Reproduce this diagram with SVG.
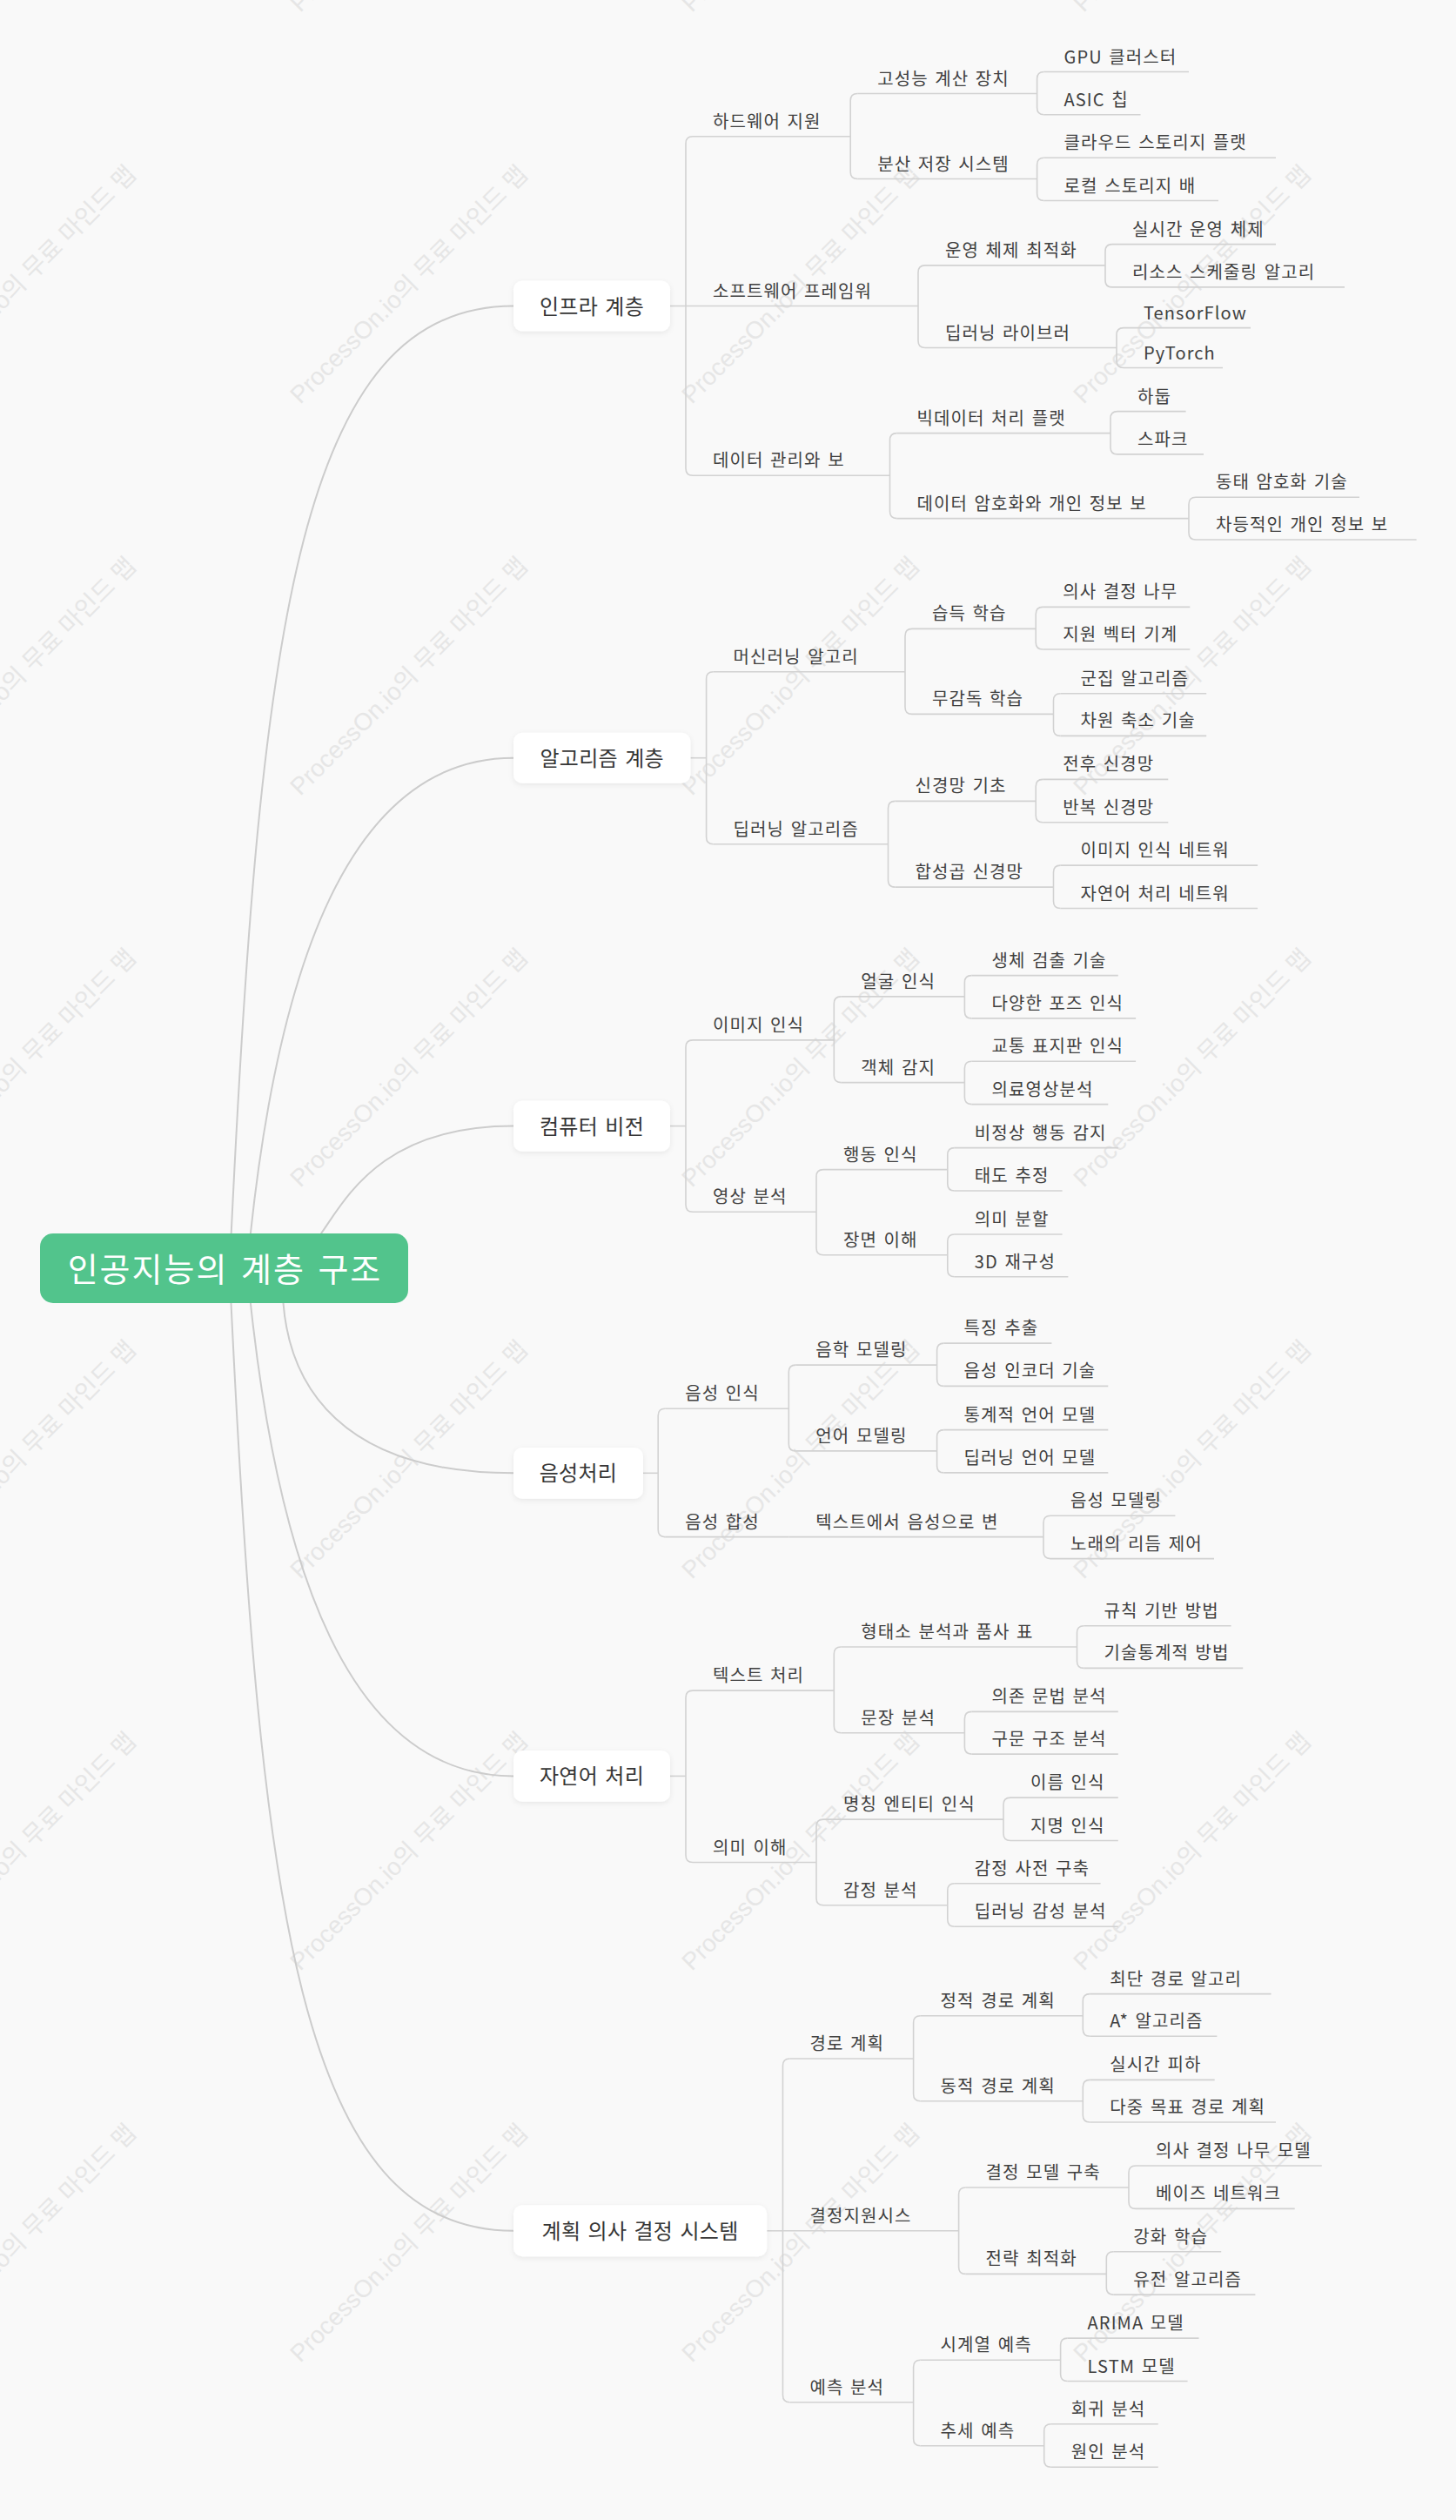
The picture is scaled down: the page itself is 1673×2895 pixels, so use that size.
<svg xmlns="http://www.w3.org/2000/svg" xmlns:xlink="http://www.w3.org/1999/xlink" width="1673" height="2895" viewBox="0 0 1673 2895">
<style>
.t{font-family:'Noto Sans CJK KR','Noto Sans',sans-serif;font-size:20px;fill:#404040;word-spacing:2px;letter-spacing:1.1px}
.t1{font-family:'Noto Sans CJK KR','Noto Sans',sans-serif;font-size:24px;fill:#363636;text-anchor:middle;word-spacing:2.5px;letter-spacing:0.3px}
.t0{font-family:'Noto Sans CJK KR','Noto Sans',sans-serif;font-size:38px;fill:#ffffff;text-anchor:middle;word-spacing:4px;letter-spacing:2px}
.ul,.cn{stroke:#d2d2d2;stroke-width:1.6;fill:none}
.cv{stroke:#cccccc;stroke-width:2;fill:none}
.box{fill:#ffffff;filter:url(#sh)}
.wm{font-family:'Liberation Sans','Noto Sans CJK KR',sans-serif;font-size:28px;fill:#e6e6e6}
</style>
<defs>
<filter id="sh" x="-20%" y="-30%" width="140%" height="170%">
<feDropShadow dx="0" dy="2" stdDeviation="3" flood-color="#000000" flood-opacity="0.07"/>
</filter>
<text id="wm" class="wm" transform="rotate(-45)">ProcessOn.io의 무료 마인드 맵</text>
</defs>
<rect x="0" y="0" width="1673" height="2895" fill="#f9f9f9"/>
<g id="watermarks">
<use xlink:href="#wm" transform="translate(-105,15)"/><use xlink:href="#wm" transform="translate(345,15)"/><use xlink:href="#wm" transform="translate(795,15)"/><use xlink:href="#wm" transform="translate(1245,15)"/>
<use xlink:href="#wm" transform="translate(-105,465)"/><use xlink:href="#wm" transform="translate(345,465)"/><use xlink:href="#wm" transform="translate(795,465)"/><use xlink:href="#wm" transform="translate(1245,465)"/>
<use xlink:href="#wm" transform="translate(-105,915)"/><use xlink:href="#wm" transform="translate(345,915)"/><use xlink:href="#wm" transform="translate(795,915)"/><use xlink:href="#wm" transform="translate(1245,915)"/>
<use xlink:href="#wm" transform="translate(-105,1365)"/><use xlink:href="#wm" transform="translate(345,1365)"/><use xlink:href="#wm" transform="translate(795,1365)"/><use xlink:href="#wm" transform="translate(1245,1365)"/>
<use xlink:href="#wm" transform="translate(-105,1815)"/><use xlink:href="#wm" transform="translate(345,1815)"/><use xlink:href="#wm" transform="translate(795,1815)"/><use xlink:href="#wm" transform="translate(1245,1815)"/>
<use xlink:href="#wm" transform="translate(-105,2265)"/><use xlink:href="#wm" transform="translate(345,2265)"/><use xlink:href="#wm" transform="translate(795,2265)"/><use xlink:href="#wm" transform="translate(1245,2265)"/>
<use xlink:href="#wm" transform="translate(-105,2715)"/><use xlink:href="#wm" transform="translate(345,2715)"/><use xlink:href="#wm" transform="translate(795,2715)"/><use xlink:href="#wm" transform="translate(1245,2715)"/>
</g>
<g id="connectors">
<path class="cv" d="M265.5 1425 L265.7 1417 C299.3 717 345 351.5 590 351.5"/>
<path class="cv" d="M287.5 1425 L287.9 1417 C320 1117 399 870.7 590 870.7"/>
<path class="cv" d="M363 1425 L369 1417 C398 1376 439 1293.6 590 1293.6"/>
<path class="cv" d="M325 1489 L325.5 1497 C333 1590 390 1692.3 590 1692.3"/>
<path class="cv" d="M287.5 1489 L287.9 1497 C320 1796 399 2040.4 590 2040.4"/>
<path class="cv" d="M265.3 1489 L265.5 1497 C299.3 2196 345 2562.8 590 2562.8"/>
<path class="cn" d="M770 351.5 H788"/>
<path class="cn" d="M796 156.8 Q788 156.8 788 164.8 V538.2 Q788 546.2 796 546.2"/>
<path class="cn" d="M985.2 107.5 Q977.2 107.5 977.2 115.5 V197.5 Q977.2 205.5 985.2 205.5"/>
<path class="cn" d="M1199.6 82.5 Q1191.6 82.5 1191.6 90.5 V123.8 Q1191.6 131.8 1199.6 131.8"/>
<path class="cn" d="M1199.6 181.2 Q1191.6 181.2 1191.6 189.2 V222.5 Q1191.6 230.5 1199.6 230.5"/>
<path class="cn" d="M1063 304.9 Q1055 304.9 1055 312.9 V391.5 Q1055 399.5 1063 399.5"/>
<path class="cn" d="M1278 280.6 Q1270 280.6 1270 288.6 V321.9 Q1270 329.9 1278 329.9"/>
<path class="cn" d="M1291 376.6 Q1283 376.6 1283 384.6 V414.5 Q1283 422.5 1291 422.5"/>
<path class="cn" d="M1030.5 497.6 Q1022.5 497.6 1022.5 505.6 V587.6 Q1022.5 595.6 1030.5 595.6"/>
<path class="cn" d="M1284 472.6 Q1276 472.6 1276 480.6 V513.9 Q1276 521.9 1284 521.9"/>
<path class="cn" d="M1374 571.3 Q1366 571.3 1366 579.3 V612 Q1366 620 1374 620"/>
<path class="cn" d="M793.4 870.7 H811.6"/>
<path class="cn" d="M819.6 771.7 Q811.6 771.7 811.6 779.7 V961.8 Q811.6 969.8 819.6 969.8"/>
<path class="cn" d="M1048 722.4 Q1040 722.4 1040 730.4 V812.4 Q1040 820.4 1048 820.4"/>
<path class="cn" d="M1198.2 697.4 Q1190.2 697.4 1190.2 705.4 V738 Q1190.2 746 1198.2 746"/>
<path class="cn" d="M1218.5 796.7 Q1210.5 796.7 1210.5 804.7 V837.4 Q1210.5 845.4 1218.5 845.4"/>
<path class="cn" d="M1028.5 920.4 Q1020.5 920.4 1020.5 928.4 V1011.1 Q1020.5 1019.1 1028.5 1019.1"/>
<path class="cn" d="M1198.2 895.4 Q1190.2 895.4 1190.2 903.4 V936.8 Q1190.2 944.8 1198.2 944.8"/>
<path class="cn" d="M1218.5 994.1 Q1210.5 994.1 1210.5 1002.1 V1035.5 Q1210.5 1043.5 1218.5 1043.5"/>
<path class="cn" d="M770 1293.6 H788"/>
<path class="cn" d="M796 1194.9 Q788 1194.9 788 1202.9 V1384.3 Q788 1392.3 796 1392.3"/>
<path class="cn" d="M966.3 1144.9 Q958.3 1144.9 958.3 1152.9 V1235.6 Q958.3 1243.6 966.3 1243.6"/>
<path class="cn" d="M1116.4 1120.6 Q1108.4 1120.6 1108.4 1128.6 V1161.9 Q1108.4 1169.9 1116.4 1169.9"/>
<path class="cn" d="M1116.4 1219.3 Q1108.4 1219.3 1108.4 1227.3 V1260.6 Q1108.4 1268.6 1116.4 1268.6"/>
<path class="cn" d="M946 1343.6 Q938 1343.6 938 1351.6 V1433.7 Q938 1441.7 946 1441.7"/>
<path class="cn" d="M1096.8 1318.6 Q1088.8 1318.6 1088.8 1326.6 V1360 Q1088.8 1368 1096.8 1368"/>
<path class="cn" d="M1096.8 1418 Q1088.8 1418 1088.8 1426 V1458.7 Q1088.8 1466.7 1096.8 1466.7"/>
<path class="cn" d="M739 1692.3 H756.2"/>
<path class="cn" d="M764.2 1618.3 Q756.2 1618.3 756.2 1626.3 V1757.6 Q756.2 1765.6 764.2 1765.6"/>
<path class="cn" d="M914.3 1568.1 Q906.3 1568.1 906.3 1576.1 V1658.9 Q906.3 1666.9 914.3 1666.9"/>
<path class="cn" d="M1084.6 1543.1 Q1076.6 1543.1 1076.6 1551.1 V1584.4 Q1076.6 1592.4 1084.6 1592.4"/>
<path class="cn" d="M1084.6 1642.6 Q1076.6 1642.6 1076.6 1650.6 V1683.9 Q1076.6 1691.9 1084.6 1691.9"/>
<path class="cn" d="M1207 1741.3 Q1199 1741.3 1199 1749.3 V1782.6 Q1199 1790.6 1207 1790.6"/>
<path class="cn" d="M770 2040.4 H788"/>
<path class="cn" d="M796 1942.1 Q788 1942.1 788 1950.1 V2131.5 Q788 2139.5 796 2139.5"/>
<path class="cn" d="M966.3 1892 Q958.3 1892 958.3 1900 V1982.8 Q958.3 1990.8 966.3 1990.8"/>
<path class="cn" d="M1245.5 1867.7 Q1237.5 1867.7 1237.5 1875.7 V1908.4 Q1237.5 1916.4 1245.5 1916.4"/>
<path class="cn" d="M1116.4 1966.4 Q1108.4 1966.4 1108.4 1974.4 V2007.1 Q1108.4 2015.1 1116.4 2015.1"/>
<path class="cn" d="M946 2090.1 Q938 2090.1 938 2098.1 V2180.8 Q938 2188.8 946 2188.8"/>
<path class="cn" d="M1161 2065.1 Q1153 2065.1 1153 2073.1 V2106.5 Q1153 2114.5 1161 2114.5"/>
<path class="cn" d="M1096.8 2163.8 Q1088.8 2163.8 1088.8 2171.8 V2205.2 Q1088.8 2213.2 1096.8 2213.2"/>
<path class="cn" d="M881.2 2562.8 H899.5"/>
<path class="cn" d="M907.5 2365 Q899.5 2365 899.5 2373 V2751.8 Q899.5 2759.8 907.5 2759.8"/>
<path class="cn" d="M1057.6 2315.7 Q1049.6 2315.7 1049.6 2323.7 V2405.7 Q1049.6 2413.7 1057.6 2413.7"/>
<path class="cn" d="M1252.3 2290.6 Q1244.3 2290.6 1244.3 2298.6 V2331.3 Q1244.3 2339.3 1252.3 2339.3"/>
<path class="cn" d="M1252.3 2389.4 Q1244.3 2389.4 1244.3 2397.4 V2430 Q1244.3 2438 1252.3 2438"/>
<path class="cn" d="M1109.6 2513 Q1101.6 2513 1101.6 2521 V2604.4 Q1101.6 2612.4 1109.6 2612.4"/>
<path class="cn" d="M1305 2488 Q1297 2488 1297 2496 V2529.4 Q1297 2537.4 1305 2537.4"/>
<path class="cn" d="M1279.3 2586.8 Q1271.3 2586.8 1271.3 2594.8 V2628.1 Q1271.3 2636.1 1279.3 2636.1"/>
<path class="cn" d="M1057.6 2711.2 Q1049.6 2711.2 1049.6 2719.2 V2801.8 Q1049.6 2809.8 1057.6 2809.8"/>
<path class="cn" d="M1226.6 2686.1 Q1218.6 2686.1 1218.6 2694.1 V2727.5 Q1218.6 2735.5 1226.6 2735.5"/>
<path class="cn" d="M1207.7 2784.8 Q1199.7 2784.8 1199.7 2792.8 V2826.2 Q1199.7 2834.2 1207.7 2834.2"/>
</g>
<g id="root"><rect x="46" y="1417" width="423" height="80" rx="15" fill="#52c48c"/><text class="t0" x="258.5" y="1472">인공지능의 계층 구조</text></g>
<g id="n1"><rect class="box" x="590" y="322.5" width="180" height="58" rx="10"/><text class="t1" x="680" y="360.5">인프라 계층</text></g>
<g id="n1-1"><path class="ul" d="M796 156.8 H977.2"/><text class="t" x="819" y="146.8">하드웨어 지원</text></g>
<g id="n1-1-1"><path class="ul" d="M985.2 107.5 H1191.6"/><text class="t" x="1008.2" y="97.5">고성능 계산 장치</text></g>
<g id="n1-1-1-1"><path class="ul" d="M1199.6 82.5 H1366"/><text class="t" x="1222.6" y="72.5">GPU 클러스터</text></g>
<g id="n1-1-1-2"><path class="ul" d="M1199.6 131.8 H1310.5"/><text class="t" x="1222.6" y="121.8">ASIC 칩</text></g>
<g id="n1-1-2"><path class="ul" d="M985.2 205.5 H1191.6"/><text class="t" x="1008.2" y="195.5">분산 저장 시스템</text></g>
<g id="n1-1-2-1"><path class="ul" d="M1199.6 181.2 H1466"/><text class="t" x="1222.6" y="171.2">클라우드 스토리지 플랫</text></g>
<g id="n1-1-2-2"><path class="ul" d="M1199.6 230.5 H1400"/><text class="t" x="1222.6" y="220.5">로컬 스토리지 배</text></g>
<g id="n1-2"><path class="ul" d="M788 351.5 H1055"/><text class="t" x="819" y="341.5">소프트웨어 프레임워</text></g>
<g id="n1-2-1"><path class="ul" d="M1063 304.9 H1270"/><text class="t" x="1086" y="294.9">운영 체제 최적화</text></g>
<g id="n1-2-1-1"><path class="ul" d="M1278 280.6 H1466"/><text class="t" x="1301" y="270.6">실시간 운영 체제</text></g>
<g id="n1-2-1-2"><path class="ul" d="M1278 329.9 H1545"/><text class="t" x="1301" y="319.9">리소스 스케줄링 알고리</text></g>
<g id="n1-2-2"><path class="ul" d="M1063 399.5 H1283"/><text class="t" x="1086" y="389.5">딥러닝 라이브러</text></g>
<g id="n1-2-2-1"><path class="ul" d="M1291 376.6 H1437"/><text class="t" x="1314" y="366.6">TensorFlow</text></g>
<g id="n1-2-2-2"><path class="ul" d="M1291 422.5 H1405"/><text class="t" x="1314" y="412.5">PyTorch</text></g>
<g id="n1-3"><path class="ul" d="M796 546.2 H1022.5"/><text class="t" x="819" y="536.2">데이터 관리와 보</text></g>
<g id="n1-3-1"><path class="ul" d="M1030.5 497.6 H1276"/><text class="t" x="1053.5" y="487.6">빅데이터 처리 플랫</text></g>
<g id="n1-3-1-1"><path class="ul" d="M1284 472.6 H1362.6"/><text class="t" x="1307" y="462.6">하둡</text></g>
<g id="n1-3-1-2"><path class="ul" d="M1284 521.9 H1383"/><text class="t" x="1307" y="511.9">스파크</text></g>
<g id="n1-3-2"><path class="ul" d="M1030.5 595.6 H1366"/><text class="t" x="1053.5" y="585.6">데이터 암호화와 개인 정보 보</text></g>
<g id="n1-3-2-1"><path class="ul" d="M1374 571.3 H1562"/><text class="t" x="1397" y="561.3">동태 암호화 기술</text></g>
<g id="n1-3-2-2"><path class="ul" d="M1374 620 H1627.6"/><text class="t" x="1397" y="610">차등적인 개인 정보 보</text></g>
<g id="n2"><rect class="box" x="590" y="841.7" width="203.4" height="58" rx="10"/><text class="t1" x="691.7" y="879.7">알고리즘 계층</text></g>
<g id="n2-1"><path class="ul" d="M819.6 771.7 H1040"/><text class="t" x="842.6" y="761.7">머신러닝 알고리</text></g>
<g id="n2-1-1"><path class="ul" d="M1048 722.4 H1190.2"/><text class="t" x="1071" y="712.4">습득 학습</text></g>
<g id="n2-1-1-1"><path class="ul" d="M1198.2 697.4 H1367.3"/><text class="t" x="1221.2" y="687.4">의사 결정 나무</text></g>
<g id="n2-1-1-2"><path class="ul" d="M1198.2 746 H1367.3"/><text class="t" x="1221.2" y="736">지원 벡터 기계</text></g>
<g id="n2-1-2"><path class="ul" d="M1048 820.4 H1210.5"/><text class="t" x="1071" y="810.4">무감독 학습</text></g>
<g id="n2-1-2-1"><path class="ul" d="M1218.5 796.7 H1386.2"/><text class="t" x="1241.5" y="786.7">군집 알고리즘</text></g>
<g id="n2-1-2-2"><path class="ul" d="M1218.5 845.4 H1386.2"/><text class="t" x="1241.5" y="835.4">차원 축소 기술</text></g>
<g id="n2-2"><path class="ul" d="M819.6 969.8 H1020.5"/><text class="t" x="842.6" y="959.8">딥러닝 알고리즘</text></g>
<g id="n2-2-1"><path class="ul" d="M1028.5 920.4 H1190.2"/><text class="t" x="1051.5" y="910.4">신경망 기초</text></g>
<g id="n2-2-1-1"><path class="ul" d="M1198.2 895.4 H1342.3"/><text class="t" x="1221.2" y="885.4">전후 신경망</text></g>
<g id="n2-2-1-2"><path class="ul" d="M1198.2 944.8 H1342.3"/><text class="t" x="1221.2" y="934.8">반복 신경망</text></g>
<g id="n2-2-2"><path class="ul" d="M1028.5 1019.1 H1210.5"/><text class="t" x="1051.5" y="1009.1">합성곱 신경망</text></g>
<g id="n2-2-2-1"><path class="ul" d="M1218.5 994.1 H1445.1"/><text class="t" x="1241.5" y="984.1">이미지 인식 네트워</text></g>
<g id="n2-2-2-2"><path class="ul" d="M1218.5 1043.5 H1445.1"/><text class="t" x="1241.5" y="1033.5">자연어 처리 네트워</text></g>
<g id="n3"><rect class="box" x="590" y="1264.5" width="180" height="58.2" rx="10"/><text class="t1" x="680" y="1302.6">컴퓨터 비전</text></g>
<g id="n3-1"><path class="ul" d="M796 1194.9 H958.3"/><text class="t" x="819" y="1184.9">이미지 인식</text></g>
<g id="n3-1-1"><path class="ul" d="M966.3 1144.9 H1108.4"/><text class="t" x="989.3" y="1134.9">얼굴 인식</text></g>
<g id="n3-1-1-1"><path class="ul" d="M1116.4 1120.6 H1284.8"/><text class="t" x="1139.4" y="1110.6">생체 검출 기술</text></g>
<g id="n3-1-1-2"><path class="ul" d="M1116.4 1169.9 H1305.1"/><text class="t" x="1139.4" y="1159.9">다양한 포즈 인식</text></g>
<g id="n3-1-2"><path class="ul" d="M966.3 1243.6 H1108.4"/><text class="t" x="989.3" y="1233.6">객체 감지</text></g>
<g id="n3-1-2-1"><path class="ul" d="M1116.4 1219.3 H1305.1"/><text class="t" x="1139.4" y="1209.3">교통 표지판 인식</text></g>
<g id="n3-1-2-2"><path class="ul" d="M1116.4 1268.6 H1273.3"/><text class="t" x="1139.4" y="1258.6">의료영상분석</text></g>
<g id="n3-2"><path class="ul" d="M796 1392.3 H938"/><text class="t" x="819" y="1382.3">영상 분석</text></g>
<g id="n3-2-1"><path class="ul" d="M946 1343.6 H1088.8"/><text class="t" x="969" y="1333.6">행동 인식</text></g>
<g id="n3-2-1-1"><path class="ul" d="M1096.8 1318.6 H1284.8"/><text class="t" x="1119.8" y="1308.6">비정상 행동 감지</text></g>
<g id="n3-2-1-2"><path class="ul" d="M1096.8 1368 H1220.6"/><text class="t" x="1119.8" y="1358">태도 추정</text></g>
<g id="n3-2-2"><path class="ul" d="M946 1441.7 H1088.8"/><text class="t" x="969" y="1431.7">장면 이해</text></g>
<g id="n3-2-2-1"><path class="ul" d="M1096.8 1418 H1220.6"/><text class="t" x="1119.8" y="1408">의미 분할</text></g>
<g id="n3-2-2-2"><path class="ul" d="M1096.8 1466.7 H1227.4"/><text class="t" x="1119.8" y="1456.7">3D 재구성</text></g>
<g id="n4"><rect class="box" x="590" y="1663" width="149" height="58.7" rx="10"/><text class="t1" x="664.5" y="1701.3">음성처리</text></g>
<g id="n4-1"><path class="ul" d="M764.2 1618.3 H906.3"/><text class="t" x="787.2" y="1608.3">음성 인식</text></g>
<g id="n4-1-1"><path class="ul" d="M914.3 1568.1 H1076.6"/><text class="t" x="937.3" y="1558.1">음학 모델링</text></g>
<g id="n4-1-1-1"><path class="ul" d="M1084.6 1543.1 H1208.4"/><text class="t" x="1107.6" y="1533.1">특징 추출</text></g>
<g id="n4-1-1-2"><path class="ul" d="M1084.6 1592.4 H1273.3"/><text class="t" x="1107.6" y="1582.4">음성 인코더 기술</text></g>
<g id="n4-1-2"><path class="ul" d="M914.3 1666.9 H1076.6"/><text class="t" x="937.3" y="1656.9">언어 모델링</text></g>
<g id="n4-1-2-1"><path class="ul" d="M1084.6 1642.6 H1273.3"/><text class="t" x="1107.6" y="1632.6">통계적 언어 모델</text></g>
<g id="n4-1-2-2"><path class="ul" d="M1084.6 1691.9 H1273.3"/><text class="t" x="1107.6" y="1681.9">딥러닝 언어 모델</text></g>
<g id="n4-2"><path class="ul" d="M764.2 1765.6 H906.3"/><text class="t" x="787.2" y="1755.6">음성 합성</text></g>
<g id="n4-2-1"><path class="ul" d="M906.3 1765.6 H1199"/><text class="t" x="937.3" y="1755.6">텍스트에서 음성으로 변</text></g>
<g id="n4-2-1-1"><path class="ul" d="M1207 1741.3 H1350.4"/><text class="t" x="1230" y="1731.3">음성 모델링</text></g>
<g id="n4-2-1-2"><path class="ul" d="M1207 1790.6 H1395"/><text class="t" x="1230" y="1780.6">노래의 리듬 제어</text></g>
<g id="n5"><rect class="box" x="590" y="2011" width="180" height="58.8" rx="10"/><text class="t1" x="680" y="2049.4">자연어 처리</text></g>
<g id="n5-1"><path class="ul" d="M796 1942.1 H958.3"/><text class="t" x="819" y="1932.1">텍스트 처리</text></g>
<g id="n5-1-1"><path class="ul" d="M966.3 1892 H1237.5"/><text class="t" x="989.3" y="1882">형태소 분석과 품사 표</text></g>
<g id="n5-1-1-1"><path class="ul" d="M1245.5 1867.7 H1414.6"/><text class="t" x="1268.5" y="1857.7">규칙 기반 방법</text></g>
<g id="n5-1-1-2"><path class="ul" d="M1245.5 1916.4 H1428.2"/><text class="t" x="1268.5" y="1906.4">기술통계적 방법</text></g>
<g id="n5-1-2"><path class="ul" d="M966.3 1990.8 H1108.4"/><text class="t" x="989.3" y="1980.8">문장 분석</text></g>
<g id="n5-1-2-1"><path class="ul" d="M1116.4 1966.4 H1284.8"/><text class="t" x="1139.4" y="1956.4">의존 문법 분석</text></g>
<g id="n5-1-2-2"><path class="ul" d="M1116.4 2015.1 H1284.8"/><text class="t" x="1139.4" y="2005.1">구문 구조 분석</text></g>
<g id="n5-2"><path class="ul" d="M796 2139.5 H938"/><text class="t" x="819" y="2129.5">의미 이해</text></g>
<g id="n5-2-1"><path class="ul" d="M946 2090.1 H1153"/><text class="t" x="969" y="2080.1">명칭 엔티티 인식</text></g>
<g id="n5-2-1-1"><path class="ul" d="M1161 2065.1 H1284.8"/><text class="t" x="1184" y="2055.1">이름 인식</text></g>
<g id="n5-2-1-2"><path class="ul" d="M1161 2114.5 H1284.8"/><text class="t" x="1184" y="2104.5">지명 인식</text></g>
<g id="n5-2-2"><path class="ul" d="M946 2188.8 H1088.8"/><text class="t" x="969" y="2178.8">감정 분석</text></g>
<g id="n5-2-2-1"><path class="ul" d="M1096.8 2163.8 H1264.6"/><text class="t" x="1119.8" y="2153.8">감정 사전 구축</text></g>
<g id="n5-2-2-2"><path class="ul" d="M1096.8 2213.2 H1284.8"/><text class="t" x="1119.8" y="2203.2">딥러닝 감성 분석</text></g>
<g id="n6"><rect class="box" x="590" y="2533.3" width="291.2" height="59" rx="10"/><text class="t1" x="735.6" y="2571.8">계획 의사 결정 시스템</text></g>
<g id="n6-1"><path class="ul" d="M907.5 2365 H1049.6"/><text class="t" x="930.5" y="2355">경로 계획</text></g>
<g id="n6-1-1"><path class="ul" d="M1057.6 2315.7 H1244.3"/><text class="t" x="1080.6" y="2305.7">정적 경로 계획</text></g>
<g id="n6-1-1-1"><path class="ul" d="M1252.3 2290.6 H1460.6"/><text class="t" x="1275.3" y="2280.6">최단 경로 알고리</text></g>
<g id="n6-1-1-2"><path class="ul" d="M1252.3 2339.3 H1398.4"/><text class="t" x="1275.3" y="2329.3">A* 알고리즘</text></g>
<g id="n6-1-2"><path class="ul" d="M1057.6 2413.7 H1244.3"/><text class="t" x="1080.6" y="2403.7">동적 경로 계획</text></g>
<g id="n6-1-2-1"><path class="ul" d="M1252.3 2389.4 H1395.7"/><text class="t" x="1275.3" y="2379.4">실시간 피하</text></g>
<g id="n6-1-2-2"><path class="ul" d="M1252.3 2438 H1466"/><text class="t" x="1275.3" y="2428">다중 목표 경로 계획</text></g>
<g id="n6-2"><path class="ul" d="M899.5 2562.8 H1101.6"/><text class="t" x="930.5" y="2552.8">결정지원시스</text></g>
<g id="n6-2-1"><path class="ul" d="M1109.6 2513 H1297"/><text class="t" x="1132.6" y="2503">결정 모델 구축</text></g>
<g id="n6-2-1-1"><path class="ul" d="M1305 2488 H1518.8"/><text class="t" x="1328" y="2478">의사 결정 나무 모델</text></g>
<g id="n6-2-1-2"><path class="ul" d="M1305 2537.4 H1487.7"/><text class="t" x="1328" y="2527.4">베이즈 네트워크</text></g>
<g id="n6-2-2"><path class="ul" d="M1109.6 2612.4 H1271.3"/><text class="t" x="1132.6" y="2602.4">전략 최적화</text></g>
<g id="n6-2-2-1"><path class="ul" d="M1279.3 2586.8 H1403.2"/><text class="t" x="1302.3" y="2576.8">강화 학습</text></g>
<g id="n6-2-2-2"><path class="ul" d="M1279.3 2636.1 H1442.4"/><text class="t" x="1302.3" y="2626.1">유전 알고리즘</text></g>
<g id="n6-3"><path class="ul" d="M907.5 2759.8 H1049.6"/><text class="t" x="930.5" y="2749.8">예측 분석</text></g>
<g id="n6-3-1"><path class="ul" d="M1057.6 2711.2 H1218.6"/><text class="t" x="1080.6" y="2701.2">시계열 예측</text></g>
<g id="n6-3-1-1"><path class="ul" d="M1226.6 2686.1 H1377.5"/><text class="t" x="1249.6" y="2676.1">ARIMA 모델</text></g>
<g id="n6-3-1-2"><path class="ul" d="M1226.6 2735.5 H1364.6"/><text class="t" x="1249.6" y="2725.5">LSTM 모델</text></g>
<g id="n6-3-2"><path class="ul" d="M1057.6 2809.8 H1199.7"/><text class="t" x="1080.6" y="2799.8">추세 예측</text></g>
<g id="n6-3-2-1"><path class="ul" d="M1207.7 2784.8 H1330.8"/><text class="t" x="1230.7" y="2774.8">회귀 분석</text></g>
<g id="n6-3-2-2"><path class="ul" d="M1207.7 2834.2 H1330.8"/><text class="t" x="1230.7" y="2824.2">원인 분석</text></g>
</svg>
